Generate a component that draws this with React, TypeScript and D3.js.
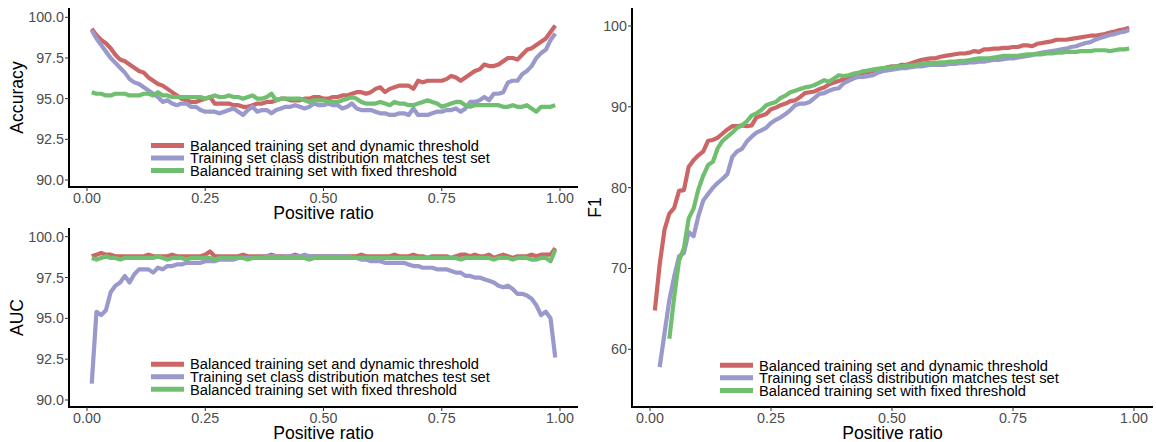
import React from 'react';
import * as d3 from 'd3';

// positive ratio of the test set (x)
const ratios = [
  0.01, 0.02, 0.03, 0.04, 0.05, 0.06, 0.07, 0.08, 0.09, 0.1,
  0.11, 0.12, 0.13, 0.14, 0.15, 0.16, 0.17, 0.18, 0.19, 0.2,
  0.21, 0.22, 0.23, 0.24, 0.25, 0.26, 0.27, 0.28, 0.29, 0.3,
  0.31, 0.32, 0.33, 0.34, 0.35, 0.36, 0.37, 0.38, 0.39, 0.4,
  0.41, 0.42, 0.43, 0.44, 0.45, 0.46, 0.47, 0.48, 0.49, 0.5,
  0.51, 0.52, 0.53, 0.54, 0.55, 0.56, 0.57, 0.58, 0.59, 0.6,
  0.61, 0.62, 0.63, 0.64, 0.65, 0.66, 0.67, 0.68, 0.69, 0.7,
  0.71, 0.72, 0.73, 0.74, 0.75, 0.76, 0.77, 0.78, 0.79, 0.8,
  0.81, 0.82, 0.83, 0.84, 0.85, 0.86, 0.87, 0.88, 0.89, 0.9,
  0.91, 0.92, 0.93, 0.94, 0.95, 0.96, 0.97, 0.98, 0.99,
];

const seriesNames = [
  'Balanced training set and dynamic threshold',
  'Training set class distribution matches test set',
  'Balanced training set with fixed threshold',
];
const seriesColors = ['#CC6666', '#9999CC', '#70BF70'];

// Accuracy
const accDynamic = [
  99.3, 98.9, 98.6, 98.4, 98.1, 97.7, 97.4, 97.3, 97.1, 96.9,
  96.7, 96.6, 96.3, 96.1, 95.9, 95.8, 95.6, 95.4, 95.2, 95.0,
  94.9, 94.8, 94.8, 94.9, 95.0, 95.1, 94.7, 94.7, 94.7, 94.7,
  94.6, 94.6, 94.5, 94.5, 94.6, 94.7, 94.7, 94.8, 94.8, 94.9,
  95.0, 95.0, 94.9, 94.9, 94.9, 95.0, 95.0, 95.1, 95.1, 95.0,
  95.0, 95.1, 95.1, 95.2, 95.2, 95.3, 95.4, 95.4, 95.3, 95.4,
  95.6, 95.7, 95.4, 95.6, 95.7, 95.8, 95.8, 95.8, 95.6, 96.1,
  96.0, 96.1, 96.1, 96.1, 96.1, 96.2, 96.4, 96.3, 96.1, 96.3,
  96.5, 96.7, 96.8, 97.1, 97.0, 97.0, 97.1, 97.3, 97.5, 97.5,
  97.4, 97.7, 98.0, 98.1, 98.3, 98.5, 98.7, 99.1, 99.5,
];
const accMatched = [
  99.2, 98.7, 98.3, 97.9, 97.5, 97.2, 96.9, 96.6, 96.2, 96.0,
  95.9, 95.7, 95.5, 95.3, 95.1, 94.8, 94.9, 94.7, 94.6, 94.7,
  94.7, 94.5, 94.5, 94.3, 94.2, 94.2, 94.2, 94.1, 94.2, 94.3,
  94.4, 94.2, 94.0, 94.3, 94.5, 94.2, 94.3, 94.3, 94.1, 94.3,
  94.4, 94.5, 94.5, 94.6, 94.5, 94.4, 94.5, 94.7, 94.6, 94.6,
  94.7, 94.6, 94.6, 94.4, 94.5, 94.7, 94.4, 94.3, 94.3, 94.3,
  94.2, 94.1, 94.1, 94.0, 94.0, 94.1, 94.1, 94.0, 94.4, 94.0,
  94.0, 94.0, 94.1, 94.2, 94.2, 94.3, 94.3, 94.4, 94.2, 94.4,
  94.8, 94.8, 94.9, 95.1, 94.9, 95.3, 95.3, 95.4, 96.0, 96.1,
  96.1, 96.5, 96.7, 97.0, 97.5, 97.8, 98.0, 98.6, 99.0,
];
const accFixed = [
  95.4, 95.3, 95.3, 95.2, 95.2, 95.3, 95.3, 95.3, 95.2, 95.2,
  95.2, 95.3, 95.3, 95.2, 95.4, 95.2, 95.2, 95.1, 95.1, 95.1,
  95.1, 95.1, 95.1, 95.1, 95.0, 95.1, 95.2, 95.1, 95.1, 95.2,
  95.1, 95.1, 95.0, 95.1, 95.2, 95.0, 95.0, 95.1, 95.3, 94.9,
  95.0, 95.0, 95.0, 95.0, 95.0, 94.9, 94.8, 94.9, 94.9, 94.9,
  94.8, 94.8, 94.8, 94.9, 95.0, 95.1, 95.0, 94.8, 94.7, 94.7,
  94.7, 94.8, 94.7, 94.6, 94.8, 94.7, 94.7, 94.6, 94.6, 94.7,
  94.8, 94.9, 94.8, 94.7, 94.5, 94.6, 94.7, 94.8, 94.8, 94.6,
  94.5, 94.6, 94.6, 94.6, 94.6, 94.6, 94.6, 94.5, 94.5, 94.6,
  94.5, 94.5, 94.6, 94.4, 94.2, 94.5, 94.5, 94.5, 94.6,
];

// AUC
const aucDynamic = [
  98.8, 98.9, 99.0, 98.9, 98.9, 98.8, 98.8, 98.8, 98.8, 98.8,
  98.8, 98.8, 98.9, 98.8, 98.8, 98.8, 98.8, 98.9, 98.8, 98.8,
  98.8, 98.8, 98.8, 98.8, 98.9, 99.1, 98.8, 98.8, 98.8, 98.8,
  98.8, 98.8, 98.9, 98.8, 98.8, 98.8, 98.8, 98.8, 98.9, 98.8,
  98.8, 98.8, 98.8, 98.9, 98.8, 98.8, 98.8, 98.8, 98.8, 98.8,
  98.8, 98.8, 98.8, 98.8, 98.8, 98.8, 98.8, 98.9, 98.8, 98.8,
  98.8, 98.8, 98.8, 98.8, 98.9, 98.8, 98.8, 98.8, 98.9, 98.8,
  98.8, 98.7, 98.8, 98.8, 98.8, 98.8, 98.7, 98.8, 98.9, 98.9,
  98.8, 98.9, 98.8, 98.8, 98.9, 98.7, 98.8, 98.9, 98.8, 98.7,
  98.8, 98.8, 98.8, 98.9, 98.8, 98.9, 98.9, 98.9, 99.3,
];
const aucMatched = [
  91.0, 95.4, 95.2, 95.5, 96.6, 97.0, 97.2, 97.6, 97.2, 97.7,
  98.0, 98.0, 98.0, 97.8, 98.1, 98.0, 98.2, 98.2, 98.3, 98.3,
  98.4, 98.4, 98.4, 98.4, 98.5, 98.5, 98.5, 98.6, 98.6, 98.6,
  98.6, 98.7, 98.7, 98.7, 98.7, 98.7, 98.7, 98.8, 98.8, 98.8,
  98.7, 98.8, 98.8, 98.8, 98.8, 98.9, 98.8, 98.8, 98.8, 98.8,
  98.8, 98.8, 98.8, 98.8, 98.8, 98.7, 98.7, 98.6, 98.6, 98.5,
  98.5, 98.5, 98.4, 98.4, 98.4, 98.4, 98.4, 98.3, 98.2, 98.2,
  98.1, 98.1, 98.1, 98.0, 98.0, 98.0, 97.9, 97.8, 97.8, 97.6,
  97.6, 97.5, 97.5, 97.4, 97.3, 97.2, 97.0, 96.9, 97.0, 96.8,
  96.5, 96.5, 96.4, 96.2, 95.8, 95.2, 95.4, 95.0, 92.6,
];
const aucFixed = [
  98.7, 98.6, 98.7, 98.8, 98.7, 98.7, 98.6, 98.7, 98.7, 98.7,
  98.7, 98.7, 98.7, 98.7, 98.8, 98.7, 98.6, 98.7, 98.7, 98.7,
  98.6, 98.7, 98.7, 98.7, 98.7, 98.7, 98.6, 98.7, 98.7, 98.7,
  98.7, 98.7, 98.7, 98.6, 98.7, 98.7, 98.7, 98.7, 98.7, 98.7,
  98.7, 98.7, 98.7, 98.7, 98.7, 98.7, 98.6, 98.7, 98.7, 98.7,
  98.7, 98.7, 98.7, 98.7, 98.7, 98.7, 98.7, 98.7, 98.7, 98.7,
  98.7, 98.7, 98.7, 98.7, 98.7, 98.7, 98.7, 98.7, 98.7, 98.7,
  98.7, 98.7, 98.7, 98.7, 98.7, 98.7, 98.7, 98.7, 98.6, 98.7,
  98.7, 98.7, 98.7, 98.7, 98.7, 98.6, 98.7, 98.7, 98.7, 98.6,
  98.7, 98.7, 98.7, 98.6, 98.6, 98.7, 98.7, 98.5, 99.2,
];

// F1 (missing where F1 is undefined)
const f1Dynamic = [
  64.8, 70.5, 74.8, 76.8, 77.5, 79.6, 79.7, 82.6, 83.4, 84.0,
  84.5, 85.8, 85.9, 86.2, 86.7, 87.2, 87.6, 87.6, 87.7, 87.6,
  87.7, 88.7, 88.9, 89.1, 89.7, 89.9, 90.2, 90.4, 90.7, 90.8,
  91.2, 91.7, 91.8, 91.9, 92.2, 92.4, 92.8, 93.0, 93.2, 93.4,
  93.6, 93.8, 94.0, 94.2, 94.3, 94.4, 94.5, 94.7, 94.9, 95.0,
  95.0, 95.2, 95.2, 95.4, 95.6, 95.8, 95.9, 96.0, 96.0, 96.2,
  96.3, 96.4, 96.5, 96.6, 96.6, 96.7, 96.9, 96.8, 97.1, 97.1,
  97.2, 97.2, 97.3, 97.3, 97.4, 97.4, 97.6, 97.6, 97.5, 97.8,
  97.9, 98.0, 98.1, 98.3, 98.3, 98.3, 98.4, 98.5, 98.6, 98.7,
  98.8, 98.8, 98.9, 99.0, 99.2, 99.3, 99.5, 99.6, 99.8,
];
const f1Matched = [
  null, 57.8, 62.0, 66.1, 69.0, 71.5, 71.9, 74.5, 74.0, 76.5,
  78.4, 79.2, 80.0, 80.6, 81.1, 81.7, 83.8, 84.5, 84.8, 85.7,
  86.3, 86.8, 87.1, 87.4, 88.0, 88.4, 88.7, 89.1, 89.6, 90.2,
  90.4, 90.4, 90.6, 91.1, 91.6, 91.7, 92.0, 92.2, 92.3, 92.9,
  93.2, 93.5, 93.7, 93.7, 93.8, 93.9, 94.2, 94.4, 94.5, 94.6,
  94.7, 94.8, 94.8, 94.9, 95.0, 95.0, 95.1, 95.2, 95.2, 95.2,
  95.2, 95.3, 95.3, 95.4, 95.4, 95.5, 95.5, 95.6, 95.6, 95.7,
  95.8, 95.8, 95.9, 96.0, 96.0, 96.1, 96.2, 96.3, 96.4, 96.6,
  96.7, 96.8, 96.9, 97.0, 97.1, 97.2, 97.4, 97.5, 97.7, 97.9,
  98.0, 98.3, 98.5, 98.7, 98.9, 99.0, 99.2, 99.3, 99.5,
];
const f1Fixed = [
  null, null, null, 61.3, 66.5, 71.0, 72.5, 76.2, 77.4, 79.8,
  81.5, 82.8, 83.2, 84.9, 85.8, 86.3, 86.8, 87.4, 87.7, 88.2,
  88.9, 89.2, 89.6, 90.2, 90.4, 90.6, 91.1, 91.4, 91.8, 92.0,
  92.2, 92.4, 92.5, 92.7, 93.0, 93.3, 93.1, 93.5, 93.9, 93.8,
  93.9, 94.1, 94.2, 94.4, 94.5, 94.6, 94.7, 94.8, 94.8, 94.9,
  95.0, 95.0, 95.1, 95.1, 95.2, 95.3, 95.4, 95.4, 95.4, 95.5,
  95.5, 95.6, 95.6, 95.7, 95.7, 95.8, 95.9, 96.0, 96.0, 96.0,
  96.1, 96.2, 96.3, 96.3, 96.3, 96.3, 96.4, 96.5, 96.5, 96.5,
  96.5, 96.6, 96.6, 96.7, 96.7, 96.8, 96.8, 96.8, 96.9, 96.9,
  96.9, 97.0, 97.0, 97.0, 96.9, 97.0, 97.1, 97.1, 97.2,
];

const xTicks = [0, 0.25, 0.5, 0.75, 1];
const xTickLabels = ['0.00', '0.25', '0.50', '0.75', '1.00'];
const pctTicks = [90, 92.5, 95, 97.5, 100];
const pctTickLabels = ['90.0', '92.5', '95.0', '97.5', '100.0'];
const f1Ticks = [60, 70, 80, 90, 100];
const f1TickLabels = ['60', '70', '80', '90', '100'];

const FONT = '"Liberation Sans", Arial, Helvetica, sans-serif';

type PanelProps = {
  left: number;
  right: number;
  top: number;
  bottom: number;
  xRange: [number, number];
  yDomain: [number, number];
  yRange: [number, number];
  yTicks: number[];
  yTickLabels: string[];
  yTitle: string;
  yTitleX: number;
  series: (number | null)[][];
  legendX: number;
  legendRows: number[];
};

const Panel = (p: PanelProps) => {
  const x = d3.scaleLinear().domain([0, 1]).range(p.xRange);
  const y = d3.scaleLinear().domain(p.yDomain).range(p.yRange);

  const line = d3
    .line<number>()
    .defined((_, i, arr) => arr[i] != null)
    .x((_, i) => x(ratios[i]))
    .y((d) => y(d as number));

  const midY = (p.top + p.bottom) / 2;
  const midX = (p.left + p.right) / 2;

  return (
    <g>
      {/* data lines */}
      {p.series.map((s, k) => (
        <path
          key={k}
          d={line(s as number[]) || ''}
          fill="none"
          stroke={seriesColors[k]}
          strokeWidth={4.2}
          strokeLinejoin="round"
        />
      ))}

      {/* axes */}
      <line x1={p.left} x2={p.left} y1={p.top} y2={p.bottom + 1} stroke="#000" strokeWidth={2} />
      <line x1={p.left - 1} x2={p.right} y1={p.bottom} y2={p.bottom} stroke="#000" strokeWidth={2} />

      {p.yTicks.map((t, i) => (
        <g key={'y' + i}>
          <line x1={p.left - 4} x2={p.left} y1={y(t)} y2={y(t)} stroke="#333" strokeWidth={1} />
          <text
            x={p.left - 5}
            y={y(t)}
            dy="0.35em"
            textAnchor="end"
            fontSize={14.3}
            fill="#4D4D4D"
            fontFamily={FONT}
          >
            {p.yTickLabels[i]}
          </text>
        </g>
      ))}

      {xTicks.map((t, i) => (
        <g key={'x' + i}>
          <line x1={x(t)} x2={x(t)} y1={p.bottom} y2={p.bottom + 4} stroke="#333" strokeWidth={1} />
          <text
            x={x(t)}
            y={p.bottom + 6}
            dy="0.71em"
            textAnchor="middle"
            fontSize={14.3}
            fill="#4D4D4D"
            fontFamily={FONT}
          >
            {xTickLabels[i]}
          </text>
        </g>
      ))}

      <text
        x={midX}
        y={p.bottom + 32}
        textAnchor="middle"
        fontSize={17.6}
        fill="#000"
        fontFamily={FONT}
      >
        Positive ratio
      </text>
      <text
        transform={`translate(${p.yTitleX},${midY}) rotate(-90)`}
        textAnchor="middle"
        fontSize={17.6}
        fill="#000"
        fontFamily={FONT}
      >
        {p.yTitle}
      </text>

      {/* legend */}
      {seriesNames.map((name, k) => (
        <g key={'l' + k}>
          <line
            x1={p.legendX}
            x2={p.legendX + 33}
            y1={p.legendRows[k]}
            y2={p.legendRows[k]}
            stroke={seriesColors[k]}
            strokeWidth={5}
          />
          <text
            x={p.legendX + 39}
            y={p.legendRows[k]}
            dy="0.36em"
            fontSize={14.7}
            fill="#000"
            fontFamily={FONT}
          >
            {name}
          </text>
        </g>
      ))}
    </g>
  );
};

export default function App() {
  return (
    <svg
      width={1156}
      height={442}
      style={{ position: 'absolute', left: 0, top: 0, background: '#fff' }}
    >
      <rect width={1156} height={442} fill="#fff" />
      <Panel
        left={69}
        right={578}
        top={8}
        bottom={187}
        xRange={[87, 560]}
        yDomain={[90, 100]}
        yRange={[180, 17.3]}
        yTicks={pctTicks}
        yTickLabels={pctTickLabels}
        yTitle="Accuracy"
        yTitleX={23}
        series={[accDynamic, accMatched, accFixed]}
        legendX={151}
        legendRows={[145.5, 158, 170.6]}
      />
      <Panel
        left={69}
        right={578}
        top={228}
        bottom={407}
        xRange={[87, 560]}
        yDomain={[90, 100]}
        yRange={[400, 236.7]}
        yTicks={pctTicks}
        yTickLabels={pctTickLabels}
        yTitle="AUC"
        yTitleX={23}
        series={[aucDynamic, aucMatched, aucFixed]}
        legendX={151}
        legendRows={[364.2, 376.8, 389.3]}
      />
      <Panel
        left={632}
        right={1153}
        top={8}
        bottom={407}
        xRange={[650, 1134]}
        yDomain={[60, 100]}
        yRange={[349.3, 26]}
        yTicks={f1Ticks}
        yTickLabels={f1TickLabels}
        yTitle="F1"
        yTitleX={601}
        series={[f1Dynamic, f1Matched, f1Fixed]}
        legendX={720}
        legendRows={[365.3, 377.8, 390.5]}
      />
    </svg>
  );
}
